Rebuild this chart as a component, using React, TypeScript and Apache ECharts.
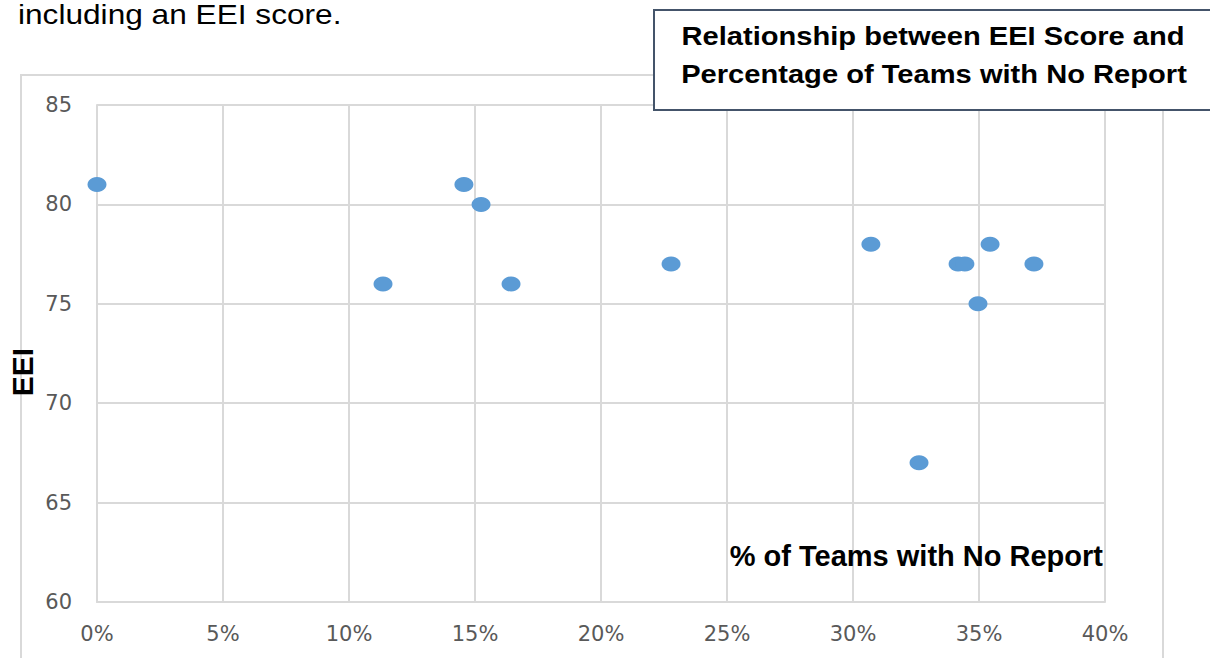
import React, { useEffect, useRef } from "react";
import * as echarts from "echarts";

const pctNoReport = [0, 11.35, 14.56, 15.24, 16.43, 22.78, 30.71, 32.62, 34.17, 34.44, 34.96, 35.44, 37.18];
const eeiScore = [81, 76, 81, 80, 76, 77, 78, 67, 77, 77, 75, 78, 77];
const xTicks = { min: 0, max: 40, interval: 5 };
const yTicks = { min: 60, max: 85, interval: 5 };
const titleLines = ["Relationship between EEI Score and", "Percentage of Teams with No Report"];
const introText = "including an EEI score.";
const xName = "% of Teams with No Report";
const yName = "EEI";

export default function App() {
  const ref = useRef<HTMLDivElement>(null);
  useEffect(() => {
    if (!ref.current) return;
    const chart = echarts.init(ref.current, undefined, { renderer: "svg" });
    const points = pctNoReport.map((x, i) => [x, eeiScore[i]]);
    chart.setOption({
      animation: false,
      backgroundColor: "#ffffff",
      grid: { left: 97, right: 105, top: 105, bottom: 56, containLabel: false },
      xAxis: {
        type: "value",
        min: xTicks.min,
        max: xTicks.max,
        interval: xTicks.interval,
        name: xName,
        nameLocation: "end",
        nameGap: -2,
        nameTextStyle: {
          fontFamily: "Liberation Sans, Arial, sans-serif",
          fontWeight: "bold",
          fontSize: 29,
          color: "#000000",
          align: "right",
          verticalAlign: "bottom",
          padding: [0, 0, 32, 0],
        },
        axisLine: { show: true, lineStyle: { color: "#d9d9d9", width: 2 } },
        axisTick: { show: false },
        splitLine: { show: true, lineStyle: { color: "#d9d9d9", width: 2 } },
        axisLabel: {
          formatter: (v: number) => `${v}%`,
          fontFamily: "DejaVu Sans, sans-serif",
          fontSize: 21,
          color: "#595959",
          margin: 21,
        },
      },
      yAxis: {
        type: "value",
        min: yTicks.min,
        max: yTicks.max,
        interval: yTicks.interval,
        axisLine: { show: true, lineStyle: { color: "#d9d9d9", width: 2 } },
        axisTick: { show: false },
        splitLine: { show: true, lineStyle: { color: "#d9d9d9", width: 2 } },
        axisLabel: {
          fontFamily: "DejaVu Sans, sans-serif",
          fontSize: 21,
          color: "#595959",
          margin: 25,
        },
      },
      series: [
        {
          type: "scatter",
          data: points,
          symbol: "circle",
          symbolSize: [19, 15],
          itemStyle: { color: "#5b9bd5", opacity: 1 },
          z: 5,
        },
      ],
      graphic: [
        {
          type: "rect",
          z: -10,
          shape: { x: 21, y: 75, width: 1142, height: 620 },
          style: { fill: "none", stroke: "#d9d9d9", lineWidth: 2 },
        },
        {
          type: "text",
          x: 18,
          y: 14,
          scaleX: 1.13,
          style: {
            text: introText,
            fontFamily: "Liberation Sans, Arial, sans-serif",
            fontSize: 28,
            fill: "#000000",
            align: "left",
            verticalAlign: "middle",
          },
        },
        {
          type: "rect",
          z: 100,
          shape: { x: 654, y: 10, width: 570, height: 100 },
          style: { fill: "#ffffff", stroke: "#44546a", lineWidth: 2 },
        },
        {
          type: "text",
          z: 101,
          x: 933,
          y: 36,
          scaleX: 1.12,
          style: {
            text: titleLines[0],
            fontFamily: "Liberation Sans, Arial, sans-serif",
            fontWeight: "bold",
            fontSize: 26,
            fill: "#000000",
            align: "center",
            verticalAlign: "middle",
          },
        },
        {
          type: "text",
          z: 101,
          x: 934,
          y: 74,
          scaleX: 1.12,
          style: {
            text: titleLines[1],
            fontFamily: "Liberation Sans, Arial, sans-serif",
            fontWeight: "bold",
            fontSize: 26,
            fill: "#000000",
            align: "center",
            verticalAlign: "middle",
          },
        },
        {
          type: "text",
          x: 22,
          y: 372,
          rotation: Math.PI / 2,
          style: {
            text: yName,
            fontFamily: "Liberation Sans, Arial, sans-serif",
            fontWeight: "bold",
            fontSize: 30,
            fill: "#000000",
            align: "center",
            verticalAlign: "middle",
          },
        },
      ],
    });
    return () => chart.dispose();
  }, []);
  return (
    <div
      ref={ref}
      style={{ position: "fixed", left: 0, top: 0, width: 1210, height: 658 }}
    />
  );
}
